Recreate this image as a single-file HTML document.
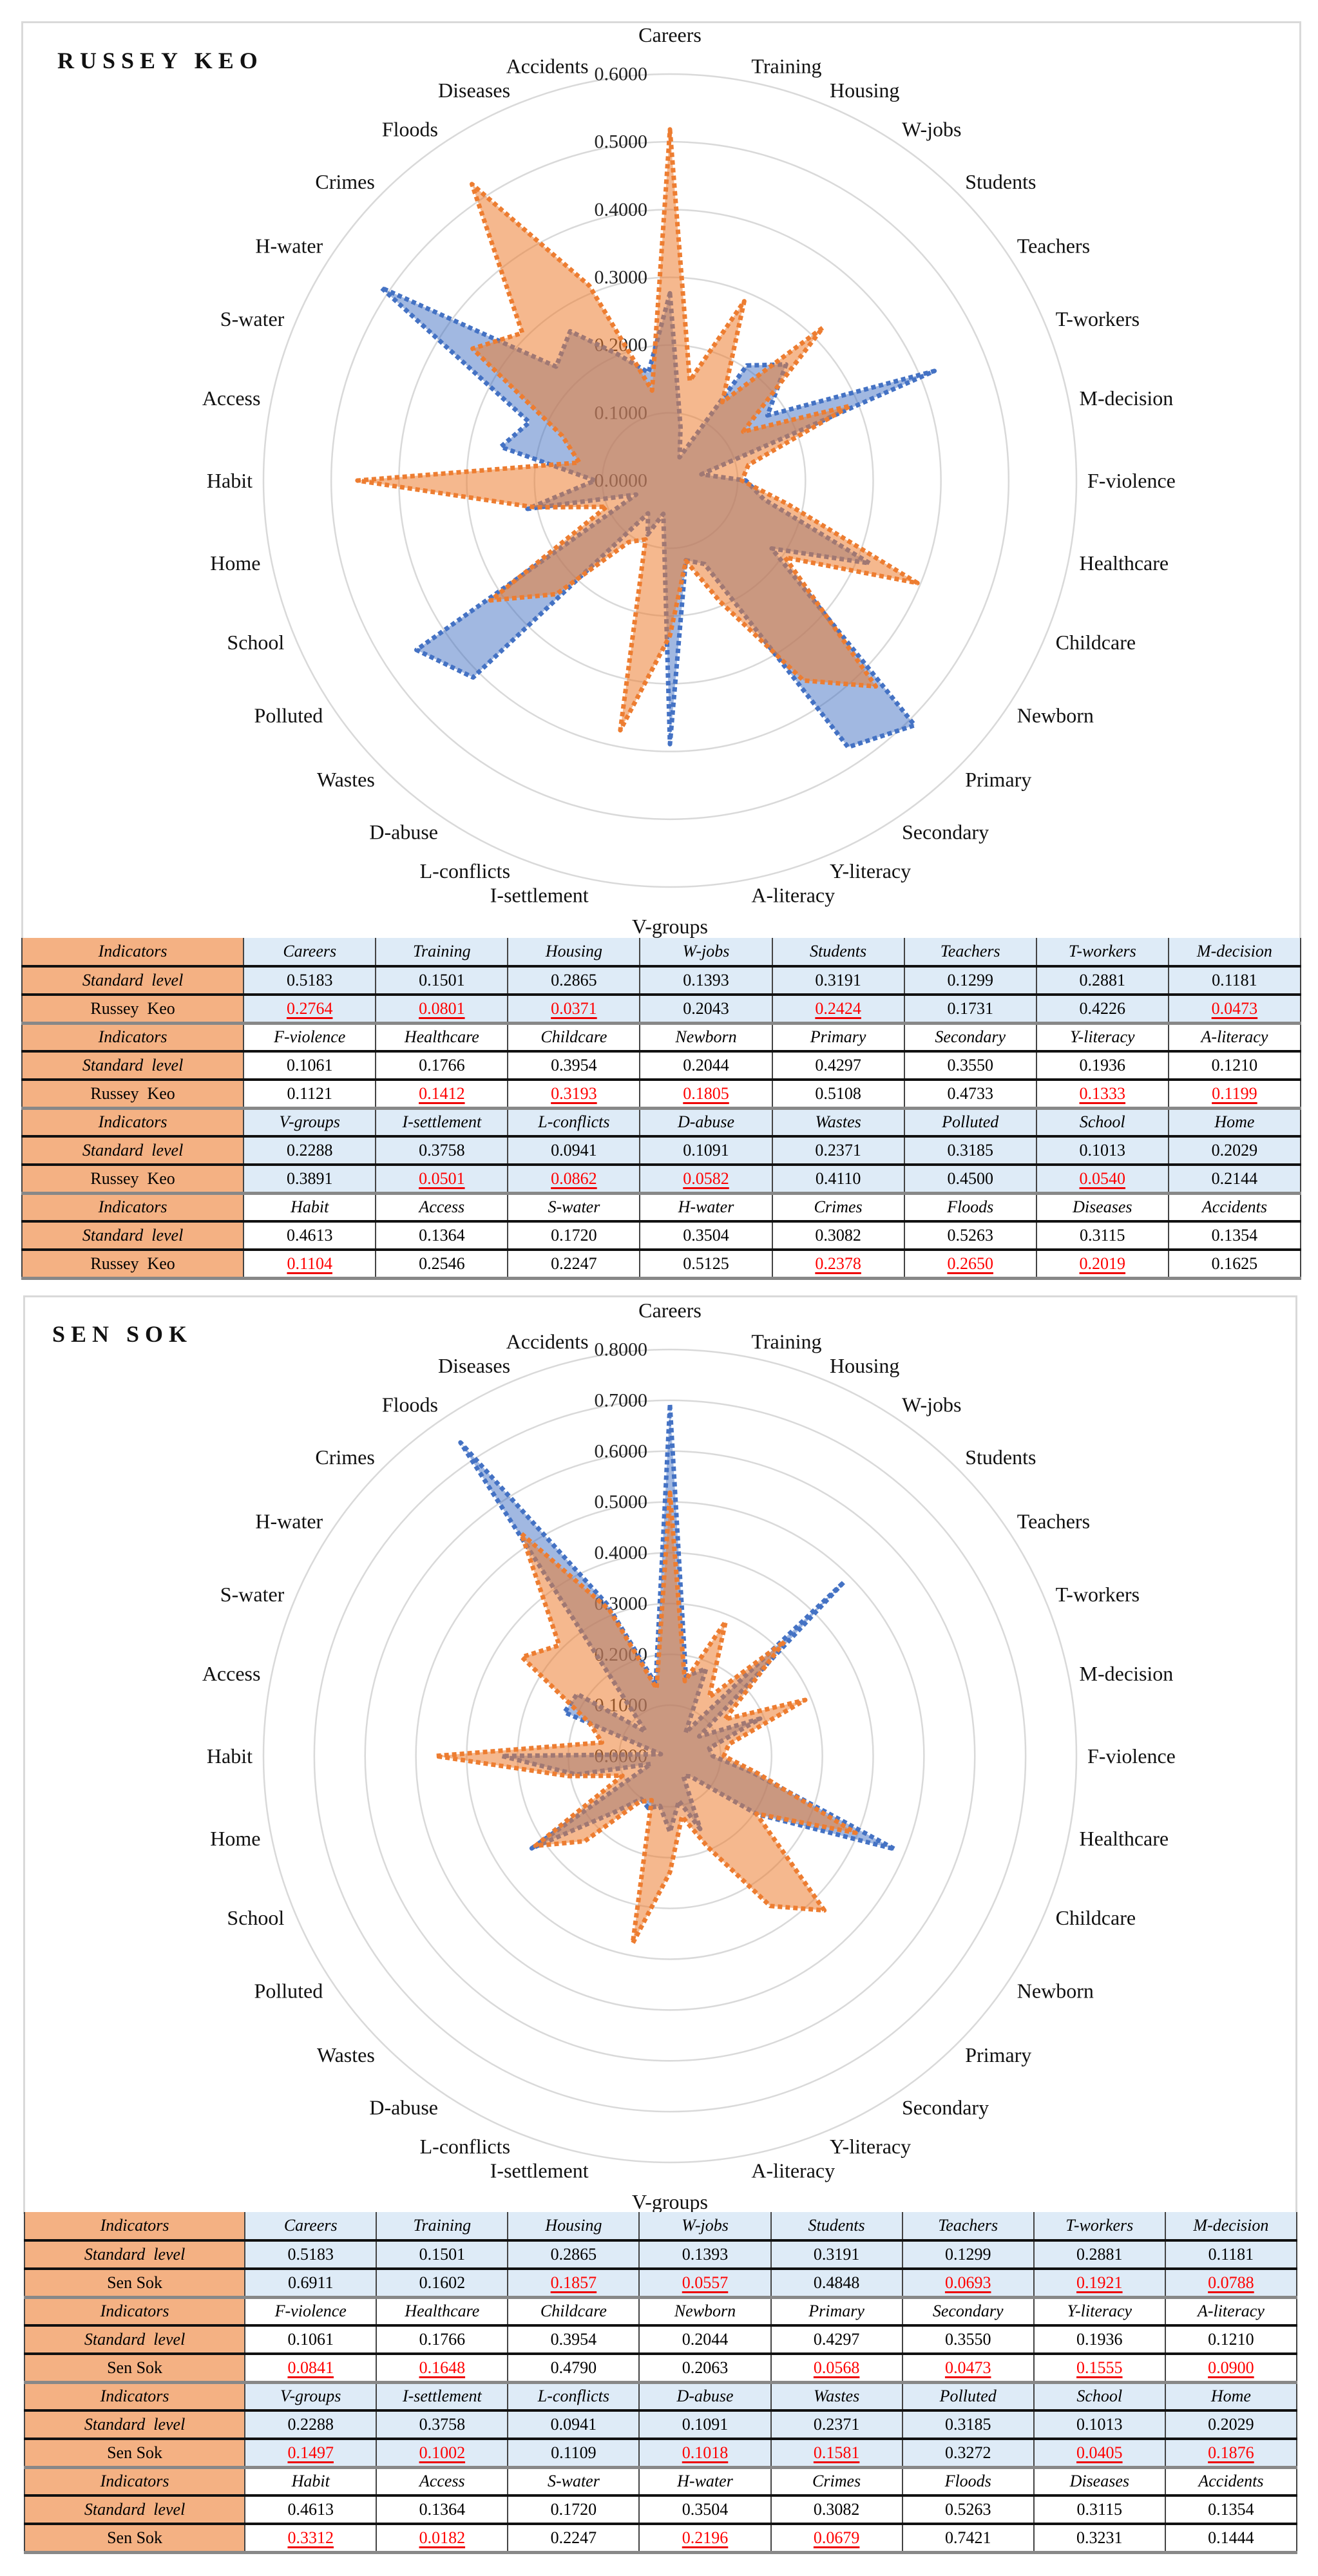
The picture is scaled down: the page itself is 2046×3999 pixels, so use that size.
<!DOCTYPE html>
<html><head><meta charset="utf-8">
<style>
body{margin:0;background:#fff;width:2046px;height:3999px;position:relative;overflow:hidden;font-family:"Liberation Serif",serif}
.frame{position:absolute;border:3px solid #d9d9d9;box-sizing:border-box;background:#fff}
svg{position:absolute;left:0;top:0}
table{position:absolute;border-collapse:collapse;table-layout:fixed;font-family:"Liberation Serif",serif;font-size:26px}
td{text-align:center;padding:0;border-left:2px solid #444;border-right:2px solid #444;white-space:nowrap;overflow:hidden}
td.h{background:#f4b183;font-style:italic}
td.hr{background:#f4b183}
tr.blue td:not(.h):not(.hr){background:#deebf7}
tr.ind td{font-style:italic}
tr.std td{font-style:italic}
tr.std td.v{font-style:normal}
tr td{border-bottom:4px solid #111}
tr.last td{border-bottom:5px solid #888}
.red{color:#f00;text-decoration:underline;text-decoration-color:#e00;text-decoration-thickness:3px;text-underline-offset:5px}
</style></head>
<body>
<div class="frame" style="left:33px;top:33px;width:1987px;height:1426px"></div>
<div class="frame" style="left:36px;top:2011px;width:1978px;height:1426px"></div>
<svg id="s" width="2046" height="3999"></svg>
<table id="t1" style="left:33px;top:1456px;width:1987px"></table>
<table id="t2" style="left:37px;top:3434px;width:1977px"></table>
<script>
const indicators=["Careers","Training","Housing","W-jobs","Students","Teachers","T-workers","M-decision","F-violence","Healthcare","Childcare","Newborn","Primary","Secondary","Y-literacy","A-literacy","V-groups","I-settlement","L-conflicts","D-abuse","Wastes","Polluted","School","Home","Habit","Access","S-water","H-water","Crimes","Floods","Diseases","Accidents"];
const standardLevel=[0.5183,0.1501,0.2865,0.1393,0.3191,0.1299,0.2881,0.1181,0.1061,0.1766,0.3954,0.2044,0.4297,0.3550,0.1936,0.1210,0.2288,0.3758,0.0941,0.1091,0.2371,0.3185,0.1013,0.2029,0.4613,0.1364,0.1720,0.3504,0.3082,0.5263,0.3115,0.1354];
const russeyKeo=[0.2764,0.0801,0.0371,0.2043,0.2424,0.1731,0.4226,0.0473,0.1121,0.1412,0.3193,0.1805,0.5108,0.4733,0.1333,0.1199,0.3891,0.0501,0.0862,0.0582,0.4110,0.4500,0.0540,0.2144,0.1104,0.2546,0.2247,0.5125,0.2378,0.2650,0.2019,0.1625];
const senSok=[0.6911,0.1602,0.1857,0.0557,0.4848,0.0693,0.1921,0.0788,0.0841,0.1648,0.4790,0.2063,0.0568,0.0473,0.1555,0.0900,0.1497,0.1002,0.1109,0.1018,0.1581,0.3272,0.0405,0.1876,0.3312,0.0182,0.2247,0.2196,0.0679,0.7421,0.3231,0.1444];
const ticks1=[0,0.1,0.2,0.3,0.4,0.5,0.6];
const ticks2=[0,0.1,0.2,0.3,0.4,0.5,0.6,0.7,0.8];

const NS="http://www.w3.org/2000/svg";
const svg=document.getElementById('s');
function mk(tag,attrs,parent){const e=document.createElementNS(NS,tag);for(const k in attrs)e.setAttribute(k,attrs[k]);(parent||svg).appendChild(e);return e;}

function radar(cx,cy,R,max,ticks,title,titleX,titleY,region,regionName,key){
  const g=mk('g',{});
  
  
  const rs=v=>v/max*R;
  const n=indicators.length;
  const ang=i=>i/n*2*Math.PI;
  const pt=(i,v)=>[cx+rs(v)*Math.sin(ang(i)),cy-rs(v)*Math.cos(ang(i))];
  ticks.forEach(t=>{if(t>0){const c=mk('circle',{cx:cx,cy:cy,r:rs(t),fill:'none',stroke:'#d9d9d9','stroke-width':2.5},g);
    
    }});
  ticks.forEach(t=>{const tx=mk('text',{x:cx-35,y:cy-rs(t),'text-anchor':'end','dominant-baseline':'central','font-size':30,fill:'#222','font-family':'Liberation Serif, serif'},g);
    tx.textContent=t.toFixed(4);
    
    });
  const poly=(vals,fill,stroke,name)=>{
    const p=mk('polygon',{points:vals.map((v,i)=>pt(i,v).join(',')).join(' '),fill:fill,stroke:stroke,'stroke-width':7,'stroke-dasharray':'7 5','stroke-linejoin':'round'},g);
    
    };
  poly(region,'rgba(68,114,196,0.5)','#4472c4',key+'-series');
  poly(standardLevel,'rgba(237,125,49,0.55)','#ed7d31','standard-level-series');
  indicators.forEach((lab,i)=>{
    const a=ang(i),s=Math.sin(a),c=Math.cos(a);const L=648;
    let x=cx+L*s,y=cy-L*c,anchor='middle';
    if(s>0.05)anchor='start';else if(s<-0.05)anchor='end';else y-=c*36;
    y-=c*8;
    const tx=mk('text',{x:x,y:y,'text-anchor':anchor,'dominant-baseline':'central','font-size':32,fill:'#111','font-family':'Liberation Serif, serif'},g);
    tx.textContent=lab;
    
    
  });
  const tt=mk('text',{x:titleX,y:titleY,'font-size':36,'font-weight':'bold','letter-spacing':9,fill:'#111','dominant-baseline':'central','font-family':'Liberation Serif, serif'},g);
  tt.textContent=title;
  
  
}
radar(1040,746,631,0.6,ticks1,'RUSSEY KEO',89,94,russeyKeo,'Russey Keo','russey-keo');
radar(1040,2726,631,0.8,ticks2,'SEN SOK',81,2071,senSok,'Sen Sok','sen-sok');

function table(id,region,name,firstW,colW){
  const t=document.getElementById(id);
  let html='<colgroup><col style="width:'+firstW+'px">'+('<col style="width:'+colW+'px">').repeat(8)+'</colgroup>';
  for(let g=0;g<4;g++){
    const cls=g%2===0?'blue':'';
    const idx=[...Array(8).keys()].map(k=>g*8+k);
    html+='<tr class="ind '+cls+'" style="height:44px"><td class="h">Indicators</td>'+idx.map(i=>'<td>'+indicators[i]+'</td>').join('')+'</tr>';
    html+='<tr class="std '+cls+'" style="height:44px"><td class="h">Standard&nbsp; level</td>'+idx.map(i=>'<td class="v">'+standardLevel[i].toFixed(4)+'</td>').join('')+'</tr>';
    html+='<tr class="reg last '+cls+'" style="height:44px"><td class="hr">'+name+'</td>'+idx.map(i=>'<td><span class="'+(region[i]<standardLevel[i]?'red':'')+'">'+region[i].toFixed(4)+'</span></td>').join('')+'</tr>';
  }
  t.innerHTML=html;
}
table('t1',russeyKeo,'Russey&nbsp; Keo',344,205);
table('t2',senSok,'Sen Sok',342,204);
</script>
</body></html>
